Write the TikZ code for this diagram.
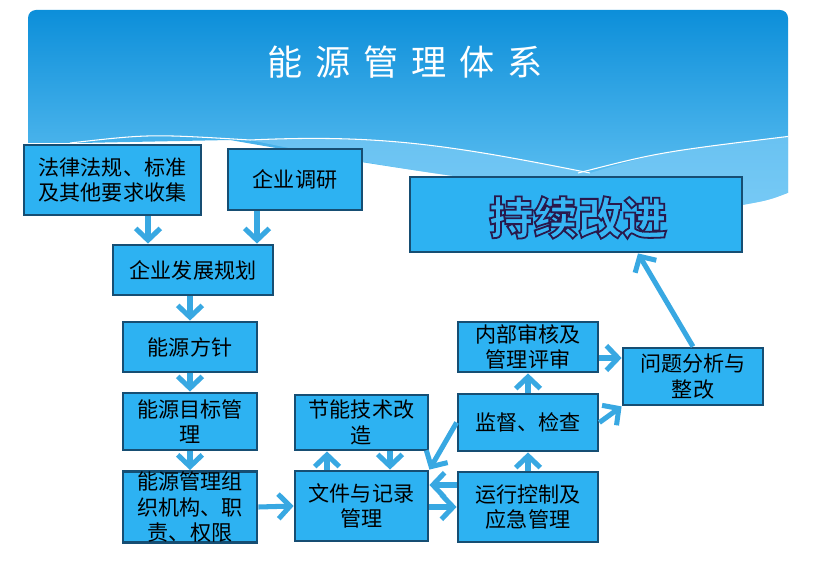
\documentclass[tikz,border=0pt]{standalone}
\usepackage{fontspec}
\setmainfont{Noto Sans CJK SC}
\newfontfamily\bigcjk{Noto Sans CJK SC}[FakeBold=4]
\usetikzlibrary{arrows.meta,calc}
\definecolor{boxfill}{RGB}{45,178,242}
\definecolor{boxline}{RGB}{22,78,115}
\definecolor{arrowc}{RGB}{56,168,226}
\definecolor{headtop}{RGB}{8,140,216}
\definecolor{headbot}{RGB}{100,195,243}
\definecolor{wedgec}{RGB}{130,206,247}
\definecolor{bigfill}{RGB}{55,182,244}
\begin{document}
\begin{tikzpicture}[x=0.03cm,y=-0.03cm,
  box/.style={draw=boxline, fill=boxfill, line width=2.4pt, inner sep=0pt, align=center,
    text=black, font=\fontsize{18}{22}\selectfont},
  sz/.style 2 args={minimum width=#1*0.03cm, minimum height=#2*0.03cm},
  arr/.style={draw=arrowc, line width=4.3pt, -{Straight Barb[length=10pt,width=21pt]}},
  titlefont/.style={font=\fontsize{30}{30}\selectfont, text=white},
  bigfont/.style={font=\bigcjk\fontsize{38}{38}\selectfont\bfseries}]
\useasboundingbox (0,0) rectangle (816,567);
% header
\begin{scope}
  \clip[rounded corners=0.24cm] (28,10) rectangle (788,320);
  \shade[top color=headtop, bottom color=headbot]
    (20,0) -- (800,0) -- (800,188) .. controls (770,200) .. (742,205)
    .. controls (600,200) and (400,170) .. (230,140) -- (80,143) -- (20,143) -- cycle;
  \fill[wedgec, opacity=0.6]
    (250,140) .. controls (380,134) and (450,145) .. (590,173)
    .. controls (660,152) .. (800,135) -- (800,188) .. controls (770,200) .. (742,205)
    .. controls (600,200) and (400,172) .. (250,140) -- cycle;
  \draw[white, line width=0.9pt] (70,143) .. controls (150,134) .. (250,140)
    .. controls (380,134) and (450,145) .. (590,173);
  \draw[white, line width=0.9pt] (578,173) .. controls (660,152) .. (800,135);
\end{scope}
\node[titlefont] (title) at (405,62) {能\kern11pt源\kern11pt管\kern11pt理\kern11pt体\kern11pt系};
% boxes
\node[box, sz={177}{70}, font=\fontsize{18}{20.5}\selectfont] (b1) at (112.5,180) {法律法规、标准\\及其他要求收集};
\node[box, sz={134}{61}] (b2) at (295,179.5) {企业调研};
\node[box, sz={160}{50}] (b3) at (193,270) {企业发展规划};
\node[box, sz={332}{75}] (b4) at (576,214.5) {};
\node[box, sz={134}{50}] (b5) at (190,347) {能源方针};
\node[box, sz={134}{57}] (b6) at (190,421.5) {能源目标管\\理};
\node[box, sz={134}{70}] (b7) at (190,507) {能源管理组\\织机构、职\\责、权限};
\node[box, sz={133}{55}] (b8) at (361.5,422.5) {节能技术改\\造};
\node[box, sz={133}{70}] (b9) at (361.5,506) {文件与记录\\管理};
\node[box, sz={140}{50}] (b10) at (528,347) {内部审核及\\管理评审};
\node[box, sz={140}{57}] (b11) at (528,422.5) {监督、检查};
\node[box, sz={140}{70}] (b12) at (528,507) {运行控制及\\应急管理};
\node[box, sz={140}{57}] (b13) at (693,376.5) {问题分析与\\整改};
% outlined big text (fill + stroke)
\node[bigfont, text=bigfill, inner sep=0pt] (bigtext) at ($(b4.center)+(2,3)$)
  {\special{pdf:literal direct 0.16 0.10 0.30 RG}持续改进};
% connectors
\coordinate (p1) at ($(b1.south)+(35.5,0)$);
\draw[arr] (p1) -- (p1 |- b3.north);
\coordinate (p2) at ($(b2.south)+(-38,0)$);
\draw[arr] (p2) -- (p2 |- b3.north);
\draw[arr] (b5.north |- b3.south) -- (b5.north);
\draw[arr] (b5.south) -- (b6.north);
\draw[arr] (b6.south) -- (b7.north);
\draw[arr] (b7.east) -- (b9.west);
\coordinate (p7) at ($(b9.north)+(-34.5,0)$);
\draw[arr] (p7) -- (p7 |- b8.south);
\coordinate (p8) at ($(b8.south)+(28.5,0)$);
\draw[arr] (p8) -- (p8 |- b9.north);
\draw[arr] (b11.west) -- (b9.north east);
\coordinate (p10) at ($(b12.west)+(0,-22)$);
\draw[arr] (p10) -- (p10 -| b9.east);
\draw[arr] (b9.east |- b12.west) -- (b12.west);
\draw[arr] (b12.north) -- (b11.south);
\draw[arr] (b11.north) -- (b10.south);
\coordinate (p14) at ($(b10.east)+(0,11)$);
\draw[arr] (p14) -- (p14 -| b13.west);
\draw[arr] (b11.east) -- (b13.south west);
\draw[arr] (b13.north) -- ($(b4.south)+(62,0)$);
\end{tikzpicture}
\end{document}
